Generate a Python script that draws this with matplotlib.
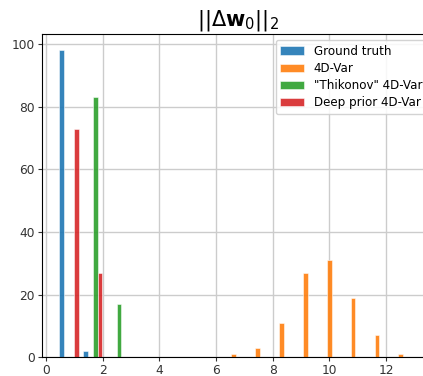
import numpy as np
import matplotlib
matplotlib.use("Agg")
import matplotlib.pyplot as plt

# Histogram settings (15 equal bins between data min and max)
data_min = 0.39
data_max = 13.03
n_bins = 15

labels = ["Ground truth", "4D-Var", '"Thikonov" 4D-Var', "Deep prior 4D-Var"]
colors = ["#1f77b4", "#ff7f0e", "#2ca02c", "#d62728"]

# Counts per bin for each series
counts_ground_truth = [98, 2, 0, 0, 0, 0, 0, 0, 0, 0, 0, 0, 0, 0, 0]
counts_4dvar        = [0, 0, 0, 0, 0, 0, 0, 1, 3, 11, 27, 31, 19, 7, 1]
counts_thikonov     = [0, 83, 17, 0, 0, 0, 0, 0, 0, 0, 0, 0, 0, 0, 0]
counts_deep_prior   = [73, 27, 0, 0, 0, 0, 0, 0, 0, 0, 0, 0, 0, 0, 0]

xticks = [0, 2, 4, 6, 8, 10, 12]
yticks = [0, 20, 40, 60, 80, 100]

edges = np.linspace(data_min, data_max, n_bins + 1)
centers = 0.5 * (edges[:-1] + edges[1:])
all_counts = [counts_ground_truth, counts_4dvar, counts_thikonov, counts_deep_prior]

fig = plt.figure(figsize=(4.23, 3.76), dpi=100)
ax = fig.add_axes([42 / 423, (376 - 357.3) / 376, (433 - 42) / 423, (357.3 - 34) / 376])

ax.hist([centers] * 4, bins=edges, weights=all_counts, color=colors, label=labels,
        alpha=0.9, edgecolor="white", linewidth=0.4, zorder=2)

ax.set_xlim(-0.14, 13.66)
ax.set_ylim(0, 103.2)
ax.set_xticks(xticks)
ax.set_yticks(yticks)
ax.tick_params(labelsize=8.8, colors="#333333", length=3, pad=2)
ax.grid(True, color="#cccccc", linewidth=1, zorder=0)
ax.set_axisbelow(True)
ax.set_title(r"$||\Delta \mathbf{w}_0||_2$", fontsize=15, pad=6)
ax.legend(loc="upper right", fontsize=8.6, framealpha=0.85, handlelength=2.0,
          labelspacing=0.35)

fig.savefig("out.png", dpi=100)
